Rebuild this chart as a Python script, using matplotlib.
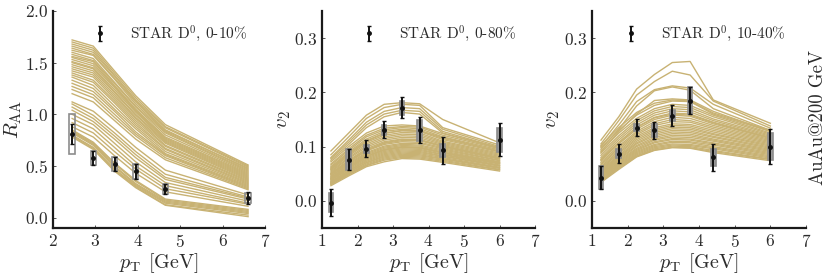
import matplotlib
matplotlib.use("Agg")
import matplotlib.pyplot as plt
from matplotlib.patches import Rectangle

plt.rcParams["font.family"] = ["cmr10", "DejaVu Serif"]
plt.rcParams["mathtext.fontset"] = "cm"
plt.rcParams["axes.formatter.use_mathtext"] = True
plt.rcParams["axes.unicode_minus"] = False

LINE_COLOR = "#c8b273"
TEXT_COLOR = "#2b2b2b"

# STAR D0 R_AA, 0-10%
raa_pt = [2.45, 2.95, 3.45, 3.95, 4.65, 6.6]
raa_val = [0.81, 0.577, 0.519, 0.447, 0.277, 0.19]
raa_stat = [0.093, 0.072, 0.065, 0.072, 0.052, 0.055]
raa_sys = [0.19, 0.07, 0.07, 0.07, 0.052, 0.052]

# STAR D0 v2, 0-80%
v2a_pt = [1.25, 1.75, 2.25, 2.75, 3.25, 3.75, 4.4, 6.0]
v2a_val = [-0.003, 0.076, 0.096, 0.131, 0.172, 0.130, 0.093, 0.113]
v2a_stat = [0.025, 0.019, 0.016, 0.016, 0.019, 0.024, 0.025, 0.031]
v2a_sys = [0.018, 0.019, 0.007, 0.009, 0.013, 0.019, 0.012, 0.022]

# STAR D0 v2, 10-40%
v2b_pt = [1.25, 1.75, 2.25, 2.75, 3.25, 3.75, 4.4, 6.0]
v2b_val = [0.043, 0.087, 0.135, 0.130, 0.157, 0.185, 0.080, 0.100]
v2b_stat = [0.021, 0.017, 0.015, 0.016, 0.019, 0.025, 0.025, 0.032]
v2b_sys = [0.022, 0.008, 0.007, 0.012, 0.010, 0.024, 0.015, 0.025]

# model curves (one row per parameter sample)
model_raa_pt = [2.45, 2.95, 3.45, 3.95, 4.65, 6.6]
model_raa = [
    [1.72, 1.66, 1.42, 1.18, 0.90, 0.51],
    [1.70, 1.64, 1.40, 1.16, 0.88, 0.50],
    [1.68, 1.62, 1.38, 1.14, 0.87, 0.49],
    [1.66, 1.60, 1.37, 1.13, 0.85, 0.47],
    [1.64, 1.58, 1.35, 1.12, 0.84, 0.48],
    [1.62, 1.57, 1.34, 1.10, 0.83, 0.46],
    [1.60, 1.54, 1.31, 1.08, 0.82, 0.45],
    [1.58, 1.52, 1.30, 1.07, 0.80, 0.44],
    [1.56, 1.51, 1.28, 1.05, 0.78, 0.43],
    [1.55, 1.49, 1.27, 1.04, 0.77, 0.42],
    [1.53, 1.47, 1.26, 1.03, 0.76, 0.41],
    [1.51, 1.45, 1.24, 1.02, 0.75, 0.40],
    [1.50, 1.44, 1.22, 1.00, 0.74, 0.39],
    [1.48, 1.42, 1.21, 0.99, 0.73, 0.38],
    [1.46, 1.40, 1.19, 0.97, 0.72, 0.37],
    [1.44, 1.38, 1.17, 0.96, 0.70, 0.36],
    [1.42, 1.36, 1.15, 0.94, 0.69, 0.35],
    [1.40, 1.33, 1.13, 0.92, 0.67, 0.34],
    [1.38, 1.31, 1.11, 0.90, 0.66, 0.33],
    [1.36, 1.28, 1.08, 0.88, 0.64, 0.32],
    [1.33, 1.25, 1.05, 0.86, 0.62, 0.31],
    [1.30, 1.22, 1.03, 0.83, 0.61, 0.30],
    [1.27, 1.19, 1.00, 0.81, 0.60, 0.29],
    [1.24, 1.16, 0.97, 0.79, 0.58, 0.28],
    [1.20, 1.12, 0.94, 0.76, 0.56, 0.27],
    [1.12, 1.03, 0.86, 0.68, 0.46, 0.22],
    [1.10, 0.99, 0.82, 0.64, 0.42, 0.20],
    [1.07, 0.96, 0.79, 0.61, 0.39, 0.19],
    [1.04, 0.93, 0.76, 0.58, 0.37, 0.18],
    [1.00, 0.90, 0.72, 0.54, 0.34, 0.16],
    [0.96, 0.86, 0.68, 0.50, 0.31, 0.14],
    [0.92, 0.82, 0.64, 0.47, 0.28, 0.13],
    [0.88, 0.78, 0.60, 0.43, 0.25, 0.11],
    [0.85, 0.73, 0.53, 0.36, 0.18, 0.08],
    [0.84, 0.72, 0.52, 0.35, 0.17, 0.07],
    [0.83, 0.71, 0.50, 0.33, 0.16, 0.06],
    [0.82, 0.70, 0.49, 0.32, 0.15, 0.05],
    [0.80, 0.68, 0.47, 0.31, 0.14, 0.04],
    [0.79, 0.67, 0.46, 0.30, 0.125, 0.025],
    [0.78, 0.66, 0.45, 0.29, 0.12, 0.01],
]

model_v2_pt = [1.25, 1.75, 2.25, 2.75, 3.25, 3.75, 4.4, 6.0]
model_v2a = [
    [0.092, 0.125, 0.158, 0.178, 0.181, 0.179, 0.150, 0.107],
    [0.085, 0.118, 0.152, 0.172, 0.178, 0.176, 0.135, 0.103],
    [0.080, 0.112, 0.145, 0.165, 0.172, 0.170, 0.132, 0.100],
    [0.078, 0.108, 0.140, 0.160, 0.167, 0.165, 0.128, 0.098],
    [0.075, 0.104, 0.135, 0.155, 0.163, 0.160, 0.125, 0.097],
    [0.072, 0.100, 0.125, 0.138, 0.140, 0.138, 0.124, 0.098],
    [0.068, 0.096, 0.121, 0.134, 0.137, 0.136, 0.121, 0.096],
    [0.066, 0.093, 0.118, 0.131, 0.135, 0.133, 0.118, 0.094],
    [0.063, 0.090, 0.114, 0.128, 0.132, 0.130, 0.115, 0.092],
    [0.061, 0.088, 0.111, 0.125, 0.129, 0.128, 0.113, 0.090],
    [0.060, 0.086, 0.110, 0.124, 0.130, 0.129, 0.117, 0.091],
    [0.058, 0.085, 0.108, 0.121, 0.126, 0.125, 0.110, 0.088],
    [0.057, 0.083, 0.105, 0.118, 0.123, 0.122, 0.108, 0.086],
    [0.055, 0.080, 0.102, 0.115, 0.120, 0.119, 0.106, 0.084],
    [0.053, 0.078, 0.099, 0.112, 0.117, 0.116, 0.104, 0.082],
    [0.051, 0.075, 0.096, 0.109, 0.114, 0.113, 0.102, 0.080],
    [0.050, 0.073, 0.094, 0.106, 0.111, 0.111, 0.100, 0.078],
    [0.049, 0.072, 0.093, 0.107, 0.113, 0.112, 0.101, 0.079],
    [0.048, 0.071, 0.092, 0.104, 0.109, 0.108, 0.098, 0.077],
    [0.046, 0.069, 0.089, 0.101, 0.106, 0.106, 0.096, 0.075],
    [0.045, 0.067, 0.087, 0.099, 0.104, 0.103, 0.094, 0.074],
    [0.043, 0.065, 0.085, 0.097, 0.102, 0.101, 0.092, 0.072],
    [0.042, 0.063, 0.083, 0.095, 0.100, 0.099, 0.090, 0.071],
    [0.041, 0.062, 0.082, 0.094, 0.099, 0.098, 0.089, 0.070],
    [0.040, 0.061, 0.081, 0.093, 0.098, 0.097, 0.088, 0.069],
    [0.039, 0.060, 0.079, 0.091, 0.096, 0.095, 0.086, 0.068],
    [0.038, 0.058, 0.077, 0.089, 0.094, 0.093, 0.085, 0.066],
    [0.036, 0.056, 0.075, 0.087, 0.092, 0.091, 0.083, 0.065],
    [0.035, 0.055, 0.073, 0.085, 0.090, 0.089, 0.082, 0.064],
    [0.034, 0.053, 0.071, 0.083, 0.088, 0.087, 0.080, 0.062],
    [0.033, 0.052, 0.070, 0.081, 0.086, 0.085, 0.078, 0.061],
    [0.032, 0.050, 0.068, 0.079, 0.084, 0.083, 0.077, 0.060],
    [0.031, 0.049, 0.066, 0.077, 0.082, 0.081, 0.075, 0.058],
    [0.030, 0.048, 0.065, 0.075, 0.080, 0.079, 0.073, 0.057],
    [0.028, 0.046, 0.063, 0.072, 0.078, 0.077, 0.071, 0.055],
]

model_v2b = [
    [0.112, 0.155, 0.206, 0.233, 0.255, 0.257, 0.186, 0.143],
    [0.105, 0.148, 0.195, 0.220, 0.239, 0.232, 0.184, 0.138],
    [0.100, 0.140, 0.183, 0.205, 0.212, 0.208, 0.178, 0.134],
    [0.095, 0.132, 0.175, 0.203, 0.210, 0.204, 0.170, 0.130],
    [0.090, 0.128, 0.160, 0.185, 0.188, 0.186, 0.165, 0.128],
    [0.102, 0.135, 0.163, 0.180, 0.186, 0.184, 0.162, 0.130],
    [0.098, 0.130, 0.158, 0.176, 0.184, 0.183, 0.160, 0.128],
    [0.092, 0.125, 0.152, 0.170, 0.178, 0.176, 0.158, 0.125],
    [0.088, 0.120, 0.148, 0.166, 0.174, 0.172, 0.155, 0.123],
    [0.084, 0.116, 0.144, 0.162, 0.170, 0.168, 0.151, 0.121],
    [0.080, 0.112, 0.140, 0.158, 0.166, 0.164, 0.148, 0.119],
    [0.077, 0.108, 0.136, 0.154, 0.162, 0.160, 0.145, 0.117],
    [0.076, 0.107, 0.135, 0.153, 0.160, 0.158, 0.144, 0.116],
    [0.074, 0.105, 0.132, 0.150, 0.158, 0.156, 0.142, 0.115],
    [0.071, 0.101, 0.128, 0.146, 0.154, 0.152, 0.139, 0.113],
    [0.068, 0.098, 0.125, 0.142, 0.150, 0.148, 0.136, 0.111],
    [0.066, 0.095, 0.122, 0.139, 0.146, 0.145, 0.133, 0.109],
    [0.063, 0.092, 0.119, 0.135, 0.142, 0.141, 0.130, 0.107],
    [0.061, 0.089, 0.116, 0.132, 0.139, 0.138, 0.127, 0.105],
    [0.059, 0.087, 0.113, 0.129, 0.136, 0.135, 0.124, 0.103],
    [0.057, 0.084, 0.110, 0.126, 0.133, 0.132, 0.122, 0.101],
    [0.055, 0.082, 0.107, 0.123, 0.130, 0.129, 0.119, 0.099],
    [0.053, 0.080, 0.105, 0.120, 0.127, 0.126, 0.117, 0.097],
    [0.051, 0.078, 0.102, 0.117, 0.124, 0.123, 0.114, 0.095],
    [0.049, 0.076, 0.100, 0.114, 0.121, 0.120, 0.112, 0.093],
    [0.048, 0.074, 0.097, 0.112, 0.118, 0.117, 0.110, 0.091],
    [0.046, 0.072, 0.095, 0.109, 0.115, 0.114, 0.107, 0.089],
    [0.045, 0.070, 0.093, 0.107, 0.113, 0.112, 0.105, 0.087],
    [0.043, 0.068, 0.091, 0.104, 0.110, 0.109, 0.103, 0.085],
    [0.042, 0.066, 0.089, 0.102, 0.108, 0.107, 0.100, 0.083],
    [0.040, 0.064, 0.087, 0.100, 0.105, 0.104, 0.098, 0.081],
    [0.039, 0.063, 0.085, 0.098, 0.103, 0.102, 0.096, 0.079],
    [0.037, 0.061, 0.083, 0.096, 0.101, 0.100, 0.093, 0.077],
    [0.036, 0.060, 0.082, 0.094, 0.099, 0.098, 0.091, 0.076],
    [0.034, 0.058, 0.081, 0.093, 0.098, 0.097, 0.089, 0.074],
]


def style_axes(ax, xlim, ylim, yticks, ylabel, ylabel_x):

    ax.set_xlim(*xlim)

    ax.set_xticks(range(xlim[0], xlim[1] + 1))

    ax.set_ylim(*ylim)

    ax.set_yticks(yticks)

    for side in ["top", "right"]:
        ax.spines[side].set_visible(False)

    for side in ["left", "bottom"]:
        ax.spines[side].set_linewidth(1.6)
        ax.spines[side].set_color("#1a1a1a")

    ax.tick_params(direction="in", length=2.5, width=0.7,
                   color="#555555", labelsize=12.5, labelcolor=TEXT_COLOR)

    ax.set_xlabel(r"$p_\mathrm{T}$ [GeV]", fontsize=14.5, color=TEXT_COLOR,
                  labelpad=1)

    ax.set_ylabel(ylabel, fontsize=15, color=TEXT_COLOR, va="center")

    ax.yaxis.set_label_coords(ylabel_x, 0.5)


def draw_panel(ax, model_pt, model, pt, val, stat, sys, label, legend_x,
               box_fill):

    for curve in model:
        ax.plot(model_pt, curve, color=LINE_COLOR, lw=1.0, zorder=1)

    for x, y, s in zip(pt, val, sys):
        ax.add_patch(Rectangle((x - 0.065, y - s), 0.13, 2 * s,
                               facecolor=box_fill, edgecolor="#8c8c8c",
                               lw=1.2, zorder=2))

    ax.errorbar(pt, val, yerr=stat, fmt="o", ms=2.5, color="#111111",
                elinewidth=1.4, capsize=1.6, capthick=1.0, zorder=3,
                label=label)

    ax.legend(loc="center left", bbox_to_anchor=(legend_x, 0.894),
              frameon=False, fontsize=11, handlelength=2.0,
              handletextpad=1.0, borderpad=0, borderaxespad=0,
              labelcolor=TEXT_COLOR)


fig = plt.figure(figsize=(8.3, 2.77), dpi=100)

ax1 = fig.add_axes([0.0639, 0.1769, 0.2554, 0.7834])
ax2 = fig.add_axes([0.3880, 0.1769, 0.2566, 0.7834])
ax3 = fig.add_axes([0.7133, 0.1769, 0.2578, 0.7834])

draw_panel(ax1, model_raa_pt, model_raa, raa_pt, raa_val, raa_stat, raa_sys,
           r"STAR D$^0$, 0-10%", 0.148, "none")
style_axes(ax1, (2, 7), (-0.1, 2.0), [0.0, 0.5, 1.0, 1.5, 2.0],
           r"$R_\mathrm{AA}$", -0.19)

draw_panel(ax2, model_v2_pt, model_v2a, v2a_pt, v2a_val, v2a_stat, v2a_sys,
           r"STAR D$^0$, 0-80%", 0.148, "#9a9a9a")
style_axes(ax2, (1, 7), (-0.05, 0.35), [0.0, 0.1, 0.2, 0.3],
           r"$v_2$", -0.18)

draw_panel(ax3, model_v2_pt, model_v2b, v2b_pt, v2b_val, v2b_stat, v2b_sys,
           r"STAR D$^0$, 10-40%", 0.109, "#9a9a9a")
style_axes(ax3, (1, 7), (-0.05, 0.35), [0.0, 0.2, 0.3],
           r"$v_2$", -0.18)

fig.text(0.985, 0.576, "AuAu@200 GeV", rotation=90, ha="center",
         va="center", fontsize=13.5, color=TEXT_COLOR)

fig.savefig("out.png", dpi=100)

plt.close(fig)
